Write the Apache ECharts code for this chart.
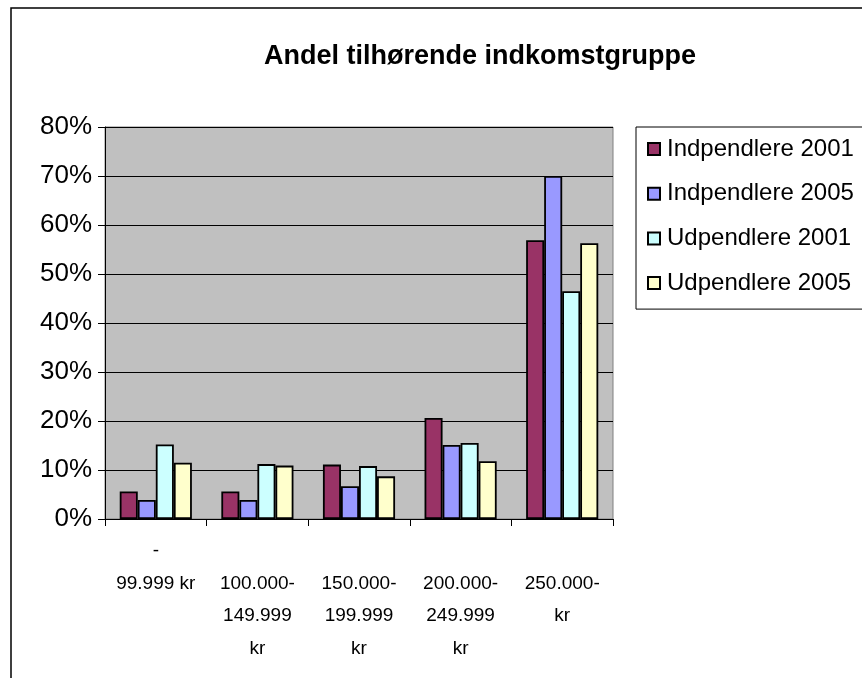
<!DOCTYPE html>
<html>
<head>
<meta charset="utf-8">
<script src="https://cdn.jsdelivr.net/npm/echarts@6/dist/echarts.min.js"></script>
<style>
html,body{margin:0;padding:0;background:#fff;}
#chart{width:862px;height:678px;}
</style>
</head>
<body>
<div id="chart"></div>
<script>
const categories = ['-\n99.999 kr', '100.000-\n149.999\nkr', '150.000-\n199.999\nkr', '200.000-\n249.999\nkr', '250.000-\nkr'];
const seriesNames = ['Indpendlere 2001', 'Indpendlere 2005', 'Udpendlere 2001', 'Udpendlere 2005'];
const indpendlere2001 = [0.056, 0.056, 0.111, 0.206, 0.569];
const indpendlere2005 = [0.039, 0.039, 0.067, 0.151, 0.700];
const udpendlere2001 = [0.152, 0.112, 0.108, 0.155, 0.465];
const udpendlere2005 = [0.115, 0.109, 0.087, 0.118, 0.563];
const yTicks = [0, 0.1, 0.2, 0.3, 0.4, 0.5, 0.6, 0.7, 0.8];
const colors = ['#993366', '#9999FF', '#CCFFFF', '#FFFFCC'];
const titleText = 'Andel tilhørende indkomstgruppe';

const values = [indpendlere2001, indpendlere2005, udpendlere2001, udpendlere2005];
const FONT = 'Liberation Sans, Arial, sans-serif';

const chart = echarts.init(document.getElementById('chart'), null, {renderer: 'canvas'});
chart.setOption({
  animation: false,
  backgroundColor: '#ffffff',
  title: {
    text: titleText,
    left: 475,
    textAlign: 'center',
    top: 38,
    textStyle: {fontFamily: FONT, fontSize: 27, fontWeight: 'bold', color: '#000'}
  },
  graphic: [{
    type: 'rect',
    shape: {x: 11, y: 8, width: 1000, height: 800},
    style: {fill: 'none', stroke: '#000', lineWidth: 1.5},
    silent: true,
    z: -1
  }],
  legend: {
    orient: 'vertical',
    left: 636,
    top: 127,
    padding: [10, 30, 14, 11],
    itemGap: 20.7,
    itemWidth: 12,
    itemHeight: 12,
    borderColor: '#000',
    borderWidth: 1,
    backgroundColor: '#fff',
    icon: 'rect',
    data: seriesNames,
    textStyle: {fontFamily: FONT, fontSize: 24, color: '#000', padding: [0, 0, 0, 2]}
  },
  grid: {left: 105, right: 249, top: 127, bottom: 159, show: true, backgroundColor: '#C0C0C0', borderColor: '#808080', borderWidth: 1},
  xAxis: {
    type: 'category',
    data: categories,
    axisLine: {show: true, lineStyle: {color: '#000', width: 1}},
    axisTick: {show: true, length: 7, inside: false, lineStyle: {color: '#000'}},
    axisLabel: {
      margin: 16,
      interval: 0,
      fontFamily: FONT,
      fontSize: 19,
      lineHeight: 32.5,
      color: '#000',
      verticalAlign: 'top',
      formatter: function (v, i) { return i === 0 ? v : '\n' + v; }
    },
    splitLine: {show: false}
  },
  yAxis: {
    type: 'value',
    min: yTicks[0],
    max: yTicks[yTicks.length - 1],
    interval: 0.1,
    axisLine: {show: true, lineStyle: {color: '#000', width: 1}},
    axisTick: {show: true, length: 7, lineStyle: {color: '#000'}},
    axisLabel: {
      margin: 13,
      fontFamily: FONT,
      fontSize: 26,
      color: '#000',
      formatter: function (v) { return Math.round(v * 100) + '%'; }
    },
    splitLine: {show: true, lineStyle: {color: '#000', width: 1}}
  },
  series: seriesNames.map(function (name, k) {
    return {
      name: name,
      type: 'bar',
      data: values[k],
      barGap: '0%',
      barCategoryGap: '29%',
      itemStyle: {color: colors[k], borderColor: '#000', borderWidth: 1.8}
    };
  })
});
</script>
</body>
</html>
